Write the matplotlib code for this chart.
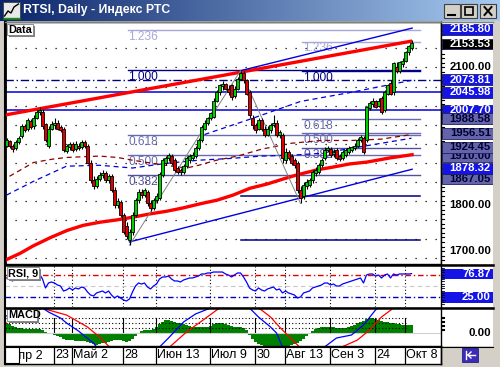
import matplotlib
matplotlib.use("Agg")
import matplotlib.pyplot as plt
from matplotlib.patches import Rectangle
from matplotlib.colors import LinearSegmentedColormap
import numpy as np

plt.rcParams['font.family'] = ['Liberation Sans', 'DejaVu Sans']

# ---------------- data ----------------
opens = [1930,1939,1928,1924,1937,1950,1972,1965,1983,1972,
         1991,2002,2004,1976,1930,1967,1974,1980,1970,1965,
         1917,1926,1933,1922,1930,1926,1937,1928,1893,1854,
         1841,1857,1865,1870,1854,1863,1833,1800,1807,1778,
         1754,1724,1741,1778,1811,1828,1822,1828,1804,1793,
         1811,1815,1865,1893,1902,1907,1898,1880,1876,1872,
         1885,1898,1902,1907,1924,1941,1967,1980,1989,1993,
         2028,2046,2059,2063,2054,2061,2037,2054,2076,2089,
         2072,2046,1989,1974,1967,1985,1967,1954,1963,1974,
         1980,1952,1952,1898,1915,1907,1898,1891,1833,1820,
         1841,1843,1854,1870,1872,1887,1902,1920,1922,1911,
         1920,1907,1902,1909,1915,1920,1924,1930,1941,1946,
         1941,2011,2020,2026,2017,2033,2007,2043,2067,2046,
         2102,2093,2107,2115,2133,2143]
closes = [1941,1928,1922,1937,1946,1972,1963,1985,1970,1991,
          2002,2007,1972,1941,1967,1976,1980,1967,1963,1920,
          1928,1933,1920,1933,1924,1937,1928,1893,1854,1841,
          1857,1865,1870,1854,1863,1833,1800,1809,1778,1741,
          1733,1741,1778,1811,1828,1822,1833,1804,1793,1811,
          1820,1867,1898,1902,1909,1893,1876,1872,1872,1885,
          1902,1907,1909,1924,1941,1970,1980,1989,2000,2028,
          2046,2061,2065,2054,2046,2035,2054,2076,2089,2072,
          2043,1996,1974,1963,1985,1967,1952,1967,1974,1980,
          1952,1959,1902,1915,1902,1893,1887,1833,1815,1843,
          1850,1854,1872,1876,1887,1898,1920,1924,1909,1915,
          1902,1900,1915,1920,1924,1926,1930,1941,1948,1915,
          2013,2022,2028,2015,2028,2002,2046,2061,2043,2109,
          2093,2111,2115,2133,2146,2153.53]
highs = [1946,1941,1933,1941,1950,1976,1976,1989,1987,1996,
         2007,2013,2009,1980,1972,1983,1989,1985,1974,1970,
         1933,1937,1937,1939,1935,1941,1941,1933,1898,1863,
         1863,1872,1876,1874,1867,1867,1839,1815,1811,1783,
         1763,1748,1785,1815,1835,1835,1837,1833,1811,1815,
         1826,1872,1902,1907,1913,1911,1902,1885,1880,1889,
         1907,1911,1915,1928,1946,1974,1985,1993,2004,2033,
         2050,2065,2070,2067,2061,2065,2059,2080,2093,2093,
         2076,2050,1996,1980,1989,1989,1972,1972,1978,1996,
         1985,1963,1957,1924,1920,1911,1902,1896,1841,1850,
         1857,1859,1876,1883,1891,1902,1926,1930,1926,1922,
         1924,1911,1920,1924,1928,1930,1935,1946,1954,1950,
         2017,2028,2033,2030,2033,2037,2050,2065,2072,2113,
         2111,2115,2120,2137,2150,2159]
lows = [1926,1924,1915,1920,1933,1946,1959,1961,1965,1967,
        1987,1996,1967,1937,1924,1963,1967,1963,1959,1915,
        1913,1920,1915,1917,1920,1922,1924,1889,1848,1835,
        1837,1852,1859,1850,1848,1828,1793,1793,1774,1737,
        1726,1713,1735,1774,1804,1815,1817,1798,1787,1789,
        1804,1811,1861,1887,1896,1887,1872,1867,1865,1867,
        1880,1893,1898,1902,1920,1937,1963,1974,1985,1989,
        2024,2039,2052,2050,2039,2030,2033,2050,2072,2067,
        2039,1991,1967,1957,1963,1961,1948,1950,1957,1970,
        1948,1946,1893,1891,1898,1887,1880,1826,1804,1813,
        1835,1839,1848,1863,1867,1883,1898,1915,1904,1904,
        1898,1896,1898,1904,1911,1915,1920,1926,1937,1911,
        1937,2007,2015,2011,2013,1998,2002,2039,2039,2041,
        2089,2089,2102,2111,2128,2139]

date_ticks = [1, 16, 22, 39, 50, 68, 83, 93, 108, 123, 133]
date_labels = ['Апр 2', '23', 'Май 2', '28', 'Июн 13', 'Июл 9', '30',
               'Авг 13', 'Сен 3', '24', 'Окт 8']

# trend lines (bar index, price)
red_upper_x = [-0.5, 135.2]
red_upper_y = [1996.5, 2157.7]
blue_upper_x = [78, 135.2]
blue_upper_y = [2093, 2185.80]
blue_lower_x = [41, 135.2]
blue_lower_y = [1720, 1878.32]
red_curve_x = [-0.5, 4.5, 8.8, 14.5, 20.2, 25.5, 31.2, 36.8, 42.2, 47.8, 53.5,
               58.8, 64.5, 70.2, 75.5, 81.2, 86.8, 92.2, 96.8, 103.5, 108.8,
               114.5, 120.2, 127.8, 135.2]
red_curve_y = [1680, 1695, 1711, 1729, 1745, 1756, 1763, 1768, 1774, 1781, 1787,
               1794, 1803, 1811, 1822, 1837, 1846, 1857, 1866, 1877, 1883,
               1890, 1894, 1903, 1910.00]
ma_blue_x = [0, 9, 15, 20, 31, 42, 53, 64, 75, 85, 95, 105, 115, 125, 135]
ma_blue_y = [1822, 1852, 1870, 1885, 1887, 1881, 1891, 1898, 1902, 1907, 1909,
             1913, 1924, 1935, 1946]
ma_red_x = [1, 9, 15, 20, 31, 37, 42, 53, 60, 64, 70, 77, 85, 95, 105, 115, 125, 135]
ma_red_y = [1863, 1893, 1900, 1904, 1907, 1904, 1898, 1887, 1881, 1887, 1898,
            1907, 1922, 1935, 1941, 1941, 1944, 1954]
ma_blue2_x = [66, 81, 98, 115, 135]
ma_blue2_y = [1954, 1987, 2026, 2046, 2072]
zigzag_x = [41, 78, 98]
zigzag_y = [1713, 2093, 1804]

fib1_levels = [1.236, 1.000, 0.618, 0.500, 0.382]
fib1_prices = [2180.8, 2093.8, 1953.0, 1909.5, 1866.0]
fib2_levels = [1.236, 1.000, 0.618, 0.500, 0.382]
fib2_prices = [2156.6, 2092.4, 1988.58, 1956.51, 1924.45]
extra_lines = [1820.6, 1725.0]
dashdot_level = 2073.81
blue_levels = [2045.98, 2007.70]

price_ticks = [2100, 1800, 1700]
# (value, box style, drawn position)
right_labels = [(2185.80, 'blue', 2183.0), (2153.53, 'black', 2151.0),
                (2073.81, 'blue', 2073.81), (2045.98, 'blue', 2045.98),
                (2007.70, 'blue', 2007.70), (1988.58, 'slate', 1988.58),
                (1956.51, 'slate', 1956.51), (1910.00, 'slate', 1906.5),
                (1924.45, 'slate', 1926.0), (1867.05, 'slate', 1857.5),
                (1878.32, 'blue', 1880.0)]

rsi = [67.4,65.2,60.9,65.2,67.4,69.6,67.4,71.7,69.6,73.9,
       76.1,76.1,65.2,45.7,56.5,58.7,56.5,52.2,50.0,39.1,
       41.3,45.7,41.3,45.7,43.5,47.8,45.7,37.0,30.4,28.3,
       34.8,37.0,39.1,34.8,39.1,30.4,23.9,28.3,23.9,19.6,
       17.4,21.7,37.0,50.0,56.5,54.3,56.5,47.8,43.5,50.0,
       54.3,65.2,69.6,69.6,71.7,65.2,60.9,60.9,58.7,63.0,
       65.2,67.4,67.4,69.6,71.7,76.1,76.1,78.3,78.3,80.4,
       80.4,80.4,80.4,76.1,73.9,69.6,73.9,78.3,78.3,69.6,
       58.7,45.7,41.3,39.1,45.7,41.3,39.1,43.5,45.7,47.8,
       41.3,43.5,34.8,39.1,34.8,32.6,30.4,23.9,26.1,34.8,
       37.0,39.1,45.7,47.8,50.0,52.2,56.5,56.5,52.2,54.3,
       50.0,50.0,54.3,56.5,58.7,60.9,63.0,65.2,67.4,56.5,
       73.9,76.1,76.1,71.7,73.9,67.4,73.9,76.1,67.4,76.1,
       73.9,76.1,76.1,76.1,76.1,76.87]

macd_hist = [10,9,7,6,5,5,4,4,4,4,
             4,4,3,1,0,-1,-2,-3,-4,-6,
             -7,-7,-7,-8,-8,-8,-8,-9,-10,-11,
             -12,-11,-10,-10,-9,-8,-7,-7,-7,-8,
             -9,-8,-6,-3,0,2,3,3,3,4,
             6,9,11,13,13,12,11,10,10,9,
             8,7,6,6,6,6,6,6,7,9,
             10,10,10,9,8,7,6,6,6,5,
             3,-2,-6,-9,-11,-12,-13,-14,-14,-14,
             -14,-14,-14,-14,-13,-12,-11,-10,-8,-6,
             -3,0,2,4,5,6,6,6,6,6,
             5,5,5,5,6,7,8,10,11,12,
             14,15,15,14,13,12,11,11,10,10,
             9,9,8,8,8,8]
macd_x = [0, 4, 8, 12, 14, 18, 20, 24, 26, 29, 30, 36, 46, 51, 54, 59, 63, 68,
          74, 80, 82, 84, 88, 90, 92, 98, 104, 106, 110, 115, 119, 123, 127, 135]
macd_y = [17, 19, 22, 25, 21, 15, 10, 2, -3, -10, -14, -26, -26, -14, -5, 11,
          19, 25, 32, 28, 22, 16, 6, 0, -14, -24, -20, -14, -5, -2, 8, 23, 34, 40]
signal_x = [0, 4, 8, 12, 14, 20, 27, 31, 34, 40, 50, 54, 60, 66, 71, 76, 82, 85,
            88, 91, 93, 98, 104, 111, 117, 121, 125, 129, 135]
signal_y = [10, 14, 19, 25, 23, 18, 6, -4, -13, -22, -22, -15, 1, 14, 25, 30, 28,
            23, 16, 6, 0, -15, -22, -15, -7, 3, 16, 25, 33]

# ---------------- layout helpers ----------------
W, H = 500, 367
fig = plt.figure(figsize=(5, 3.67), dpi=100)
fig.patch.set_facecolor('#D4D0C8')


def rect(x0, y0, x1, y1):
    return [x0 / W, 1 - y1 / H, (x1 - x0) / W, (y1 - y0) / H]


def bare(ax):
    ax.set_xticks([])
    ax.set_yticks([])
    for s in ax.spines.values():
        s.set_visible(False)


# title bar
ax_t = fig.add_axes(rect(0, 0, 500, 21))
cmap = LinearSegmentedColormap.from_list('tb', ['#0A246A', '#A6CAF0'])
ax_t.imshow(np.linspace(0, 1, 256)[None, :], aspect='auto', cmap=cmap,
            extent=[0, 500, 21, 0])
ax_t.set_xlim(0, 500)
ax_t.set_ylim(21, 0)
bare(ax_t)
ax_t.add_patch(Rectangle((3, 2), 17, 17, facecolor='#E8E8E8', edgecolor='#404040', lw=0.6))
ax_t.plot([4.5, 8, 11, 14, 18.5], [16, 11, 13, 7, 4], color='black', lw=1)
ax_t.plot([4, 19], [17.5, 17.5], color='#00A000', lw=1)
ax_t.text(23, 10.5, 'RTSI, Daily - Индекс РТС', color='white', fontsize=8.8,
          fontweight='bold', va='center', ha='left')
for bx in (444, 461, 480):
    ax_t.add_patch(Rectangle((bx, 4), 16, 14, facecolor='#D4D0C8', edgecolor='#404040', lw=0.8))
ax_t.plot([448, 455], [14.5, 14.5], color='black', lw=1.5)
ax_t.add_patch(Rectangle((465, 7), 8, 8, facecolor='none', edgecolor='black', lw=1.2))
ax_t.plot([484.5, 491.5], [7, 15], color='black', lw=1.4)
ax_t.plot([484.5, 491.5], [15, 7], color='black', lw=1.4)

# ---------------- main price panel ----------------
YMIN, YMAX = 1671.9, 2199.1
XMIN, XMAX = -0.5, 144.83
ax = fig.add_axes(rect(5, 22, 441, 264))
ax.set_xlim(XMIN, XMAX)
ax.set_ylim(YMIN, YMAX)
ax.set_xticks([])
ax.set_yticks([])
for s in ax.spines.values():
    s.set_color('black')
    s.set_linewidth(1)
ax.spines['left'].set_linewidth(2)

# dotted grid rows
for p in np.arange(2100 + 41.6, 1670, -41.6):
    ax.axhline(p, color='black', lw=0.9, linestyle=(0, (1, 7)), zorder=1)

# horizontal level lines
ax.axhline(dashdot_level, color='#000080', lw=1, linestyle=(0, (6, 2, 1, 2)), zorder=2)
for p in blue_levels:
    ax.axhline(p, color='#0000D8', lw=1.1, zorder=2)
for p in extra_lines:
    ax.plot([78, 137.8], [p, p], color='#000080', lw=1.1, zorder=2)

fib_colors = {1.236: '#A8A8D8', 1.000: '#000080', 0.618: '#6A6AB0', 0.500: '#6A6AB0', 0.382: '#50509C'}
for lev, p in zip(fib1_levels, fib1_prices):
    ax.plot([40.5, 137.8], [p, p], color=fib_colors[lev], lw=1, zorder=2)
    ax.text(40.5, p - 2, '%.3f' % lev, color=fib_colors[lev], fontsize=8.6,
            va='top', ha='left', zorder=3)
for lev, p in zip(fib2_levels, fib2_prices):
    ax.plot([98.5, 137.8], [p, p], color=fib_colors[lev], lw=1, zorder=2)
    ax.text(99, p - 2, '%.3f' % lev, color=fib_colors[lev], fontsize=8.6,
            va='top', ha='left', zorder=3)

# moving averages
ax.plot(ma_blue_x, ma_blue_y, color='#0000E0', lw=0.9, linestyle=(0, (4, 3)), zorder=3)
ax.plot(ma_red_x, ma_red_y, color='#8B0000', lw=0.9, linestyle=(0, (4, 3)), zorder=3)
ax.plot(ma_blue2_x, ma_blue2_y, color='#0000E0', lw=0.9, linestyle=(0, (4, 3)), zorder=3)

# trend lines
ax.plot(red_upper_x, red_upper_y, color='#FF0000', lw=2.4, zorder=4, solid_capstyle='butt')
ax.plot(red_curve_x, red_curve_y, color='#FF0000', lw=2.4, zorder=4)
ax.plot(blue_upper_x, blue_upper_y, color='#0000E0', lw=1, zorder=4)
ax.plot(blue_lower_x, blue_lower_y, color='#0000E0', lw=1, zorder=4)
ax.plot(zigzag_x, zigzag_y, color='#808080', lw=0.7, zorder=4)

# candles
idx = np.arange(len(closes))
o = np.array(opens, float)
c = np.array(closes, float)
hi = np.array(highs, float)
lo = np.array(lows, float)
ax.vlines(idx, lo, hi, color='black', lw=0.8, zorder=5)
cols = np.where(c >= o, '#00D000', '#E00000')
body = np.maximum(np.abs(c - o), 1.5)
ax.bar(idx, body, bottom=np.minimum(o, c), width=0.85, color=cols,
       edgecolor='black', linewidth=0.6, zorder=6)

# "Data" tag
ax_data = fig.add_axes(rect(7, 24, 35, 37))
bare(ax_data)
ax_data.set_xlim(0, 28)
ax_data.set_ylim(13, 0)
ax_data.add_patch(Rectangle((2, 2), 26, 11, facecolor='#808080', lw=0))
ax_data.add_patch(Rectangle((0, 0), 26, 11, facecolor='white', edgecolor='#808080', lw=0.6))
ax_data.text(1.5, 6, 'Data', fontsize=7.8, fontweight='bold', va='center', ha='left')

# ---------------- right price labels ----------------
ax_r = fig.add_axes(rect(441, 22, 493, 264))
ax_r.set_xlim(0, 52)
ax_r.set_ylim(YMIN, YMAX)
bare(ax_r)
ax_r.set_facecolor('white')
for p in np.arange(2190, 1675, -10):
    ax_r.plot([0, 3], [p, p], color='black', lw=0.8)
bh = 23.0
for p in price_ticks:
    ax_r.text(50, p, '%.2f' % p, fontsize=8.2, fontweight='bold', ha='right', va='center')
box_style = {'blue': ('#1414E6', 'white'), 'black': ('black', 'white'),
             'slate': ('#6464AC', '#000030')}
for k, (val, kind, pos) in enumerate(right_labels):
    fc, tc = box_style[kind]
    z = 3 + 2 * k
    ax_r.add_patch(Rectangle((0.5, pos - bh / 2), 51, bh, facecolor=fc,
                             edgecolor='#202060', lw=0.6, zorder=z))
    ax_r.text(50, pos, '%.2f' % val, fontsize=8.2, fontweight='bold', color=tc,
              ha='right', va='center', zorder=z + 1)

# ---------------- RSI panel ----------------
RMIN, RMAX = 4.3, 93.5
ax_rsi = fig.add_axes(rect(5, 266, 441, 307))
ax_rsi.set_xlim(XMIN, XMAX)
ax_rsi.set_ylim(RMIN, RMAX)
ax_rsi.set_xticks([])
ax_rsi.set_yticks([])
for s in ax_rsi.spines.values():
    s.set_visible(False)
for t in date_ticks[1:]:
    ax_rsi.axvline(t - 0.3, color='black', lw=0.8, linestyle=(0, (1, 2)))
ax_rsi.axhline(75, color='#E00000', lw=1, linestyle=(0, (4, 2, 1, 2)))
ax_rsi.axhline(50, color='#C8C8C8', lw=0.8, linestyle=(0, (4, 3)))
ax_rsi.axhline(25, color='#0000C0', lw=1, linestyle=(0, (4, 2, 1, 2)))
ax_rsi.plot(idx, rsi, color='#0000FF', lw=0.9)

ax_rl = fig.add_axes(rect(7, 267, 41, 281))
bare(ax_rl)
ax_rl.set_xlim(0, 34)
ax_rl.set_ylim(14, 0)
ax_rl.add_patch(Rectangle((2, 2), 32, 12, facecolor='#808080', lw=0))
ax_rl.add_patch(Rectangle((0, 0), 32, 12, facecolor='white', edgecolor='#808080', lw=0.6))
ax_rl.text(1.5, 6.5, 'RSI, 9', fontsize=7.8, fontweight='bold', va='center', ha='left')

ax_rr = fig.add_axes(rect(441, 266, 493, 307))
ax_rr.set_xlim(0, 52)
ax_rr.set_ylim(RMIN, RMAX)
bare(ax_rr)
for p in np.arange(90, 5, -5):
    ax_rr.plot([0, 2.5], [p, p], color='black', lw=0.6)
for val in (rsi[-1], 25.0):
    ax_rr.add_patch(Rectangle((0.5, val - 11), 51, 22, facecolor='#1414E6', lw=0))
    ax_rr.text(50, val, '%.2f' % val, fontsize=8.2, fontweight='bold', color='white',
               ha='right', va='center')

# ---------------- MACD panel ----------------
MMIN, MMAX = -13, 24
ax_m = fig.add_axes(rect(5, 309, 441, 346))
ax_m.set_xlim(XMIN, XMAX)
ax_m.set_ylim(MMIN, MMAX)
ax_m.set_xticks([])
ax_m.set_yticks([])
for s in ax_m.spines.values():
    s.set_visible(False)
for lev in (15, 10, 5):
    ax_m.axhline(lev, color='black', lw=0.8, linestyle=(0, (1, 2)), xmax=133.5 / (XMAX - XMIN))
for t in date_ticks[1:]:
    ax_m.plot([t - 0.3, t - 0.3], [0, 15], color='black', lw=0.8)
ax_m.axhline(0, color='#D0D0D0', lw=0.8)
ax_m.bar(idx, macd_hist, width=1.0, color='#008000', lw=0)
ax_m.plot(signal_x, signal_y, color='#FF0000', lw=0.9)
ax_m.plot(macd_x, macd_y, color='#0000FF', lw=0.9)

ax_ml = fig.add_axes(rect(7, 309, 39, 323))
bare(ax_ml)
ax_ml.set_xlim(0, 32)
ax_ml.set_ylim(14, 0)
ax_ml.add_patch(Rectangle((2, 2), 30, 12, facecolor='#808080', lw=0))
ax_ml.add_patch(Rectangle((0, 0), 30, 12, facecolor='white', edgecolor='#808080', lw=0.6))
ax_ml.text(1.5, 6.5, 'MACD', fontsize=7.8, fontweight='bold', va='center', ha='left')

ax_mr = fig.add_axes(rect(441, 309, 493, 346))
ax_mr.set_xlim(0, 52)
ax_mr.set_ylim(MMIN, MMAX)
bare(ax_mr)
ax_mr.text(50, 0, '0.00', fontsize=8.2, fontweight='bold', ha='right', va='center')
for p in (15, 11, 7, 3):
    ax_mr.plot([0, 2.5], [p, p], color='black', lw=1.5)

# ---------------- date axis ----------------
ax_d = fig.add_axes(rect(5, 346, 441, 364))
ax_d.set_xlim(XMIN, XMAX)
ax_d.set_ylim(18, 0)
ax_d.set_xticks([])
ax_d.set_yticks([])
for s in ax_d.spines.values():
    s.set_color('black')
    s.set_linewidth(1)
for t, lab in zip(date_ticks, date_labels):
    ax_d.plot([t - 0.3, t - 0.3], [0, 18], color='black', lw=0.9)
    ax_d.text(t + 0.3, 9.5, lab, fontsize=9, va='center', ha='left')
ax_d.add_patch(Rectangle((-0.4, 0), 4.6, 16.5, facecolor='white', edgecolor='black', lw=0.8, zorder=5))

# separators between panels
sep = fig.add_axes([0, 0, 1, 1], facecolor='none')
sep.set_xlim(0, W)
sep.set_ylim(H, 0)
bare(sep)
for y in (265, 308):
    sep.plot([5, 493], [y, y], color='black', lw=1.8)
sep.plot([5, 493], [346.5, 346.5], color='black', lw=0.8)
sep.plot([441, 441], [22, 364], color='black', lw=1)
sep.plot([4.5, 4.5], [22, 364], color='black', lw=1.5)
sep.plot([5, 493], [22, 22], color='#808080', lw=1)
sep.add_patch(Rectangle((462, 348), 16, 14, facecolor='#3C2AB8', edgecolor='#202080', lw=0.6))
sep.plot([466, 466], [351, 359], color='white', lw=1)
sep.plot([468, 475], [355, 355], color='white', lw=1)
sep.plot([468, 471], [355, 352], color='white', lw=1)
sep.plot([468, 471], [355, 358], color='white', lw=1)

fig.savefig('out.png', dpi=100, facecolor=fig.get_facecolor())
